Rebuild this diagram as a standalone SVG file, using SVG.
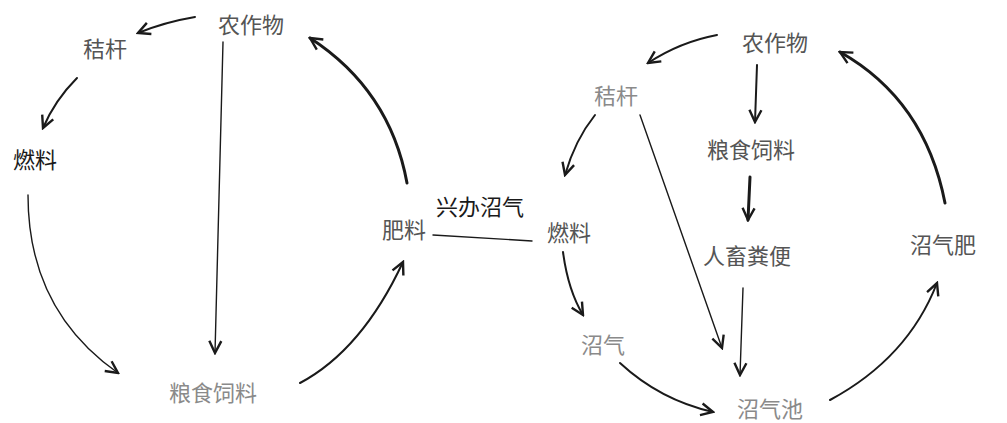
<svg xmlns="http://www.w3.org/2000/svg" width="1007" height="423" viewBox="0 0 1007 423">
<style>
  text { font-family: "Noto Sans CJK SC", "Noto Sans CJK JP", sans-serif; font-size: 22px; text-anchor: middle; dominant-baseline: central; fill: #555; }
  .dark { fill: #1a1a1a; }
  .light { fill: #8a8a8a; }
  .c { fill: none; stroke: #1a1a1a; stroke-width: 2; stroke-linecap: round; }
  .thick { stroke-width: 3; }
  .thin { stroke-width: 1.4; }
</style>
<defs>
  <marker id="ah" markerUnits="userSpaceOnUse" markerWidth="16" markerHeight="16" viewBox="0 0 16 16" refX="14" refY="8" orient="auto">
    <path d="M2,2 L14,8 L2,14" fill="none" stroke="#1a1a1a" stroke-width="2.4" stroke-linejoin="miter"/>
  </marker>
</defs>
<rect width="1007" height="423" fill="#ffffff"/>
<g id="connectors">
  <path class="c" d="M195,17 Q165,22 138,33" marker-end="url(#ah)"/>
  <path class="c" d="M77,78 Q55,100 43,128" marker-end="url(#ah)"/>
  <path class="c thin" d="M28,195 Q28,310 118,373" marker-end="url(#ah)"/>
  <path class="c thin" d="M223,42 L215,353" marker-end="url(#ah)"/>
  <path class="c" d="M300,383 Q362,350 403,262" marker-end="url(#ah)"/>
  <path class="c thick" d="M407,183 Q390,90 310,38" marker-end="url(#ah)"/>
  <path class="c thin" d="M433,235 L532,241"/>
  <path class="c" d="M717,35 Q680,42 648,63" marker-end="url(#ah)"/>
  <path class="c" d="M757,65 L755,122" marker-end="url(#ah)"/>
  <path class="c" d="M595,115 Q575,140 565,175" marker-end="url(#ah)"/>
  <path class="c thin" d="M640,115 L722,348" marker-end="url(#ah)"/>
  <path class="c thick" d="M750,177 L748,220" marker-end="url(#ah)"/>
  <path class="c thin" d="M743,288 L740,375" marker-end="url(#ah)"/>
  <path class="c" d="M563,252 Q568,290 583,315" marker-end="url(#ah)"/>
  <path class="c" d="M620,363 Q660,400 713,412" marker-end="url(#ah)"/>
  <path class="c" d="M830,400 Q908,358 937,283" marker-end="url(#ah)"/>
  <path class="c thick" d="M945,203 Q925,100 840,52" marker-end="url(#ah)"/>
</g>
<g id="n-left-crop"><text x="251" y="23">农作物</text></g>
<g id="n-left-straw"><text x="105" y="47">秸杆</text></g>
<g id="n-left-fuel"><text class="dark" x="35" y="158">燃料</text></g>
<g id="n-left-grain"><text class="light" x="213" y="391">粮食饲料</text></g>
<g id="n-left-fert"><text x="404" y="228">肥料</text></g>
<g id="n-label"><text class="dark" x="480" y="205">兴办沼气</text></g>
<g id="n-right-fuel"><text x="569" y="231">燃料</text></g>
<g id="n-right-crop"><text x="775" y="41">农作物</text></g>
<g id="n-right-straw"><text class="light" x="616" y="94">秸杆</text></g>
<g id="n-right-grain"><text x="751" y="148">粮食饲料</text></g>
<g id="n-right-manure"><text x="747" y="254">人畜粪便</text></g>
<g id="n-right-biogas"><text class="light" x="603" y="343">沼气</text></g>
<g id="n-right-pit"><text class="light" x="770" y="407">沼气池</text></g>
<g id="n-right-slurry"><text x="943" y="243">沼气肥</text></g>
</svg>
